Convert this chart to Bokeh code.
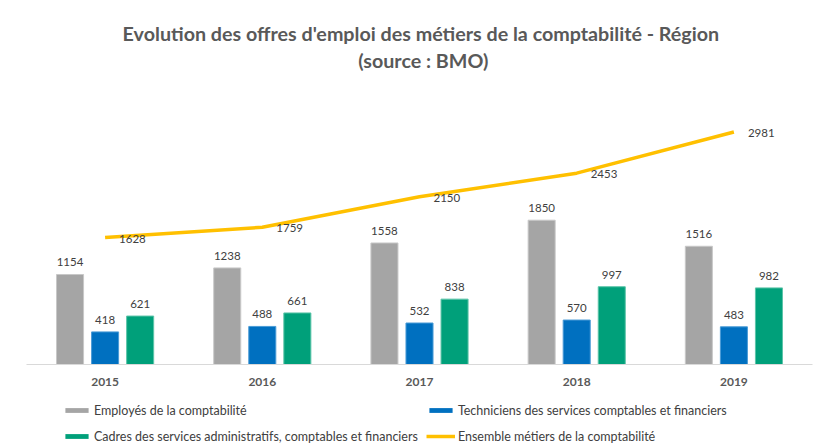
from bokeh.plotting import figure
from bokeh.layouts import column
from bokeh.models import (FactorRange, Range1d, ColumnDataSource, Legend, LegendItem,
                          LabelSet, Label)
from bokeh.core.properties import value
from bokeh.transform import dodge
from bokeh.embed import file_html
from bokeh.resources import INLINE

years = ["2015", "2016", "2017", "2018", "2019"]
employes = [1154, 1238, 1558, 1850, 1516]
techniciens = [418, 488, 532, 570, 483]
cadres = [621, 661, 838, 997, 982]
ensemble = [1628, 1759, 2150, 2453, 2981]

series_names = [
    "Employés de la comptabilité",
    "Techniciens des services comptables et financiers",
    "Cadres des services administratifs, comptables et financiers",
    "Ensemble métiers de la comptabilité",
]
title_line1 = "Evolution  des offres d'emploi des métiers de la comptabilité - Région"
title_line2 = "(source : BMO)"

FONT = "Lato"
TXT = "#404040"
C_EMP, C_TECH, C_CAD, C_ENS = "#A5A5A5", "#0070C0", "#00A07A", "#FFC000"
E_EMP, E_TECH, E_CAD = "#C8C8C8", "#4A9BD6", "#5CC4A8"

# ---------- title block ----------
pt = figure(width=830, height=80, x_range=Range1d(0, 830), y_range=Range1d(0, 80),
            output_backend="svg", toolbar_location=None, x_axis_type=None, y_axis_type=None,
            min_border=0)
pt.outline_line_color = None
pt.grid.grid_line_color = None
for txt, yy in [(title_line1, 47), (title_line2, 20)]:
    pt.add_layout(Label(x=419, y=yy, text=txt, text_align="center", text_baseline="middle",
                        text_font=FONT, text_font_size="19.7px", text_font_style="bold",
                        text_color="#595959"))

# ---------- main chart ----------
src = ColumnDataSource(dict(
    year=years, emp=employes, tech=techniciens, cad=cadres, ens=ensemble,
    emp_l=[str(v) for v in employes], tech_l=[str(v) for v in techniciens],
    cad_l=[str(v) for v in cadres], ens_l=[str(v) for v in ensemble],
))

p = figure(frame_width=786, frame_height=273, x_range=FactorRange(*years, range_padding=0),
           y_range=Range1d(0, 3500), output_backend="svg", toolbar_location=None,
           min_border_left=26, min_border_right=18, min_border_top=11, min_border_bottom=30)
p.outline_line_color = None
p.xgrid.grid_line_color = None
p.ygrid.grid_line_color = None
p.yaxis.visible = False

off = 0.223
bw = 0.172
p.vbar(x=dodge("year", -off, range=p.x_range), top="emp", width=bw, source=src,
       fill_color=C_EMP, line_color=E_EMP, line_width=1)
p.vbar(x=dodge("year", 0, range=p.x_range), top="tech", width=bw, source=src,
       fill_color=C_TECH, line_color=E_TECH, line_width=1)
p.vbar(x=dodge("year", off, range=p.x_range), top="cad", width=bw, source=src,
       fill_color=C_CAD, line_color=E_CAD, line_width=1)
p.line(x="year", y="ens", source=src, line_color=C_ENS, line_width=3.5)

for col, lab, dx in [("emp", "emp_l", -off), ("tech", "tech_l", 0), ("cad", "cad_l", off)]:
    p.add_layout(LabelSet(x=dodge("year", dx, range=p.x_range), y=col, text=lab, source=src,
                          text_align="center", text_baseline="bottom", y_offset=8,
                          text_font=value(FONT), text_font_size="11.5px", text_color=TXT))
p.add_layout(LabelSet(x="year", y="ens", text="ens_l", source=src, x_offset=14, y_offset=-1,
                      text_align="left", text_baseline="middle",
                      text_font=value(FONT), text_font_size="11.5px", text_color=TXT))

ax = p.xaxis[0]
ax.axis_line_color = "#D9D9D9"
ax.major_tick_line_color = None
ax.minor_tick_line_color = None
ax.major_label_text_font = FONT
ax.major_label_text_font_size = "12px"
ax.major_label_text_font_style = "bold"
ax.major_label_text_color = "#595959"
ax.major_label_standoff = 7

# ---------- legend block ----------
pl = figure(width=830, height=54, x_range=Range1d(0, 1), y_range=Range1d(0, 1),
            output_backend="svg", toolbar_location=None, x_axis_type=None, y_axis_type=None,
            min_border=0)
pl.outline_line_color = None
pl.grid.grid_line_color = None
# legend-only renderers: zero-size marks that draw nothing visible
l1 = pl.vbar(x=[0.5], top=[-10], bottom=[-10], width=0.01, fill_color=C_EMP, line_color=None)
l2 = pl.vbar(x=[0.5], top=[-10], bottom=[-10], width=0.01, fill_color=C_TECH, line_color=None)
l3 = pl.vbar(x=[0.5], top=[-10], bottom=[-10], width=0.01, fill_color=C_CAD, line_color=None)
l4 = pl.line(x=[0.5, 0.5], y=[-10, -10], line_color=C_ENS, line_width=3.5)

legend = Legend(items=[
    LegendItem(label=series_names[0], renderers=[l1]),
    LegendItem(label=series_names[1], renderers=[l2]),
    LegendItem(label=series_names[2], renderers=[l3]),
    LegendItem(label=series_names[3], renderers=[l4]),
], orientation="horizontal", ncols=2, location=(36, 3),
   label_text_font=FONT, label_text_font_size="12.5px", label_text_color=TXT,
   glyph_width=29, glyph_height=6, label_standoff=3, spacing=8, padding=0, margin=0,
   border_line_color=None, background_fill_alpha=0, label_height=18)
pl.add_layout(legend, "center")

layout = column(pt, p, pl, spacing=0)
open("out.html", "w").write(file_html(layout, INLINE))
